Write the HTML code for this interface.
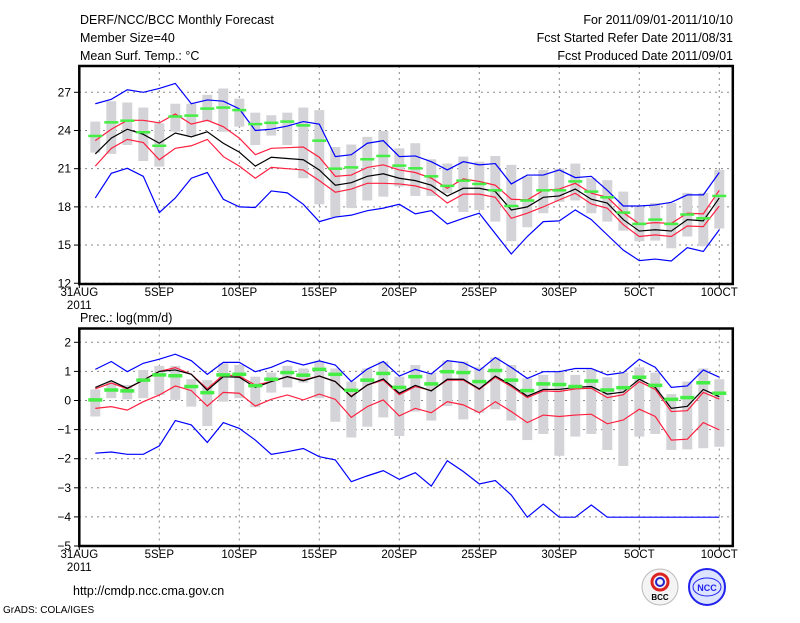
<!DOCTYPE html>
<html><head><meta charset="utf-8"><style>
body{margin:0;background:#fff;width:800px;height:618px;overflow:hidden}
svg text{font-family:"Liberation Sans",sans-serif;fill:#000}
</style></head><body>
<svg id="c" width="800" height="618" viewBox="0 0 800 618" xmlns="http://www.w3.org/2000/svg">
<g font-size="12.5">
<text x="80" y="24">DERF/NCC/BCC Monthly Forecast</text>
<text x="80" y="42">Member Size=40</text>
<text x="80" y="60">Mean Surf. Temp.: °C</text>
<text x="733" y="24" text-anchor="end">For 2011/09/01-2011/10/10</text>
<text x="733" y="42" text-anchor="end">Fcst Started Refer Date 2011/08/31</text>
<text x="733" y="60" text-anchor="end">Fcst Produced Date 2011/09/01</text>
<text x="80" y="322">Prec.: log(mm/d)</text>
<text x="73" y="595">http://cmdp.ncc.cma.gov.cn</text>
<text x="3" y="613" font-size="10">GrADS: COLA/IGES</text>
</g>
<g>
<circle cx="660" cy="587" r="18" fill="#f4f4f4" stroke="#bbb"/>
<circle cx="660" cy="582" r="8" fill="none" stroke="#d22" stroke-width="3"/>
<circle cx="660" cy="582" r="4" fill="none" stroke="#22c" stroke-width="2"/>
<text x="660" y="600" font-size="8" text-anchor="middle" font-weight="bold">BCC</text>
</g>
<g>
<circle cx="707" cy="587" r="18" fill="#dde4ff" stroke="#22e" stroke-width="2"/>
<ellipse cx="707" cy="587" rx="14" ry="9" fill="none" stroke="#22e"/>
<text x="707" y="591" font-size="9" text-anchor="middle" style="fill:#22e" font-weight="bold">NCC</text>
</g>
<g id="plot"></g>
</svg>
<script>
const days=[];for(let i=1;i<=40;i++)days.push(i);
const dateTicks=[0,5,10,15,20,25,30,35,40];
const dateLabels=["31AUG","5SEP","10SEP","15SEP","20SEP","25SEP","30SEP","5OCT","10OCT"];
const tTicks=[12,15,18,21,24,27];
const pTicks=[-5,-4,-3,-2,-1,0,1,2];
// temperature
const tMean=[22.16,23.4,24.1,23.7,23.0,23.8,23.5,23.9,23.0,22.3,21.2,21.9,21.8,21.7,20.9,19.7,19.9,20.4,20.6,20.25,20.06,19.7,18.85,19.46,19.46,19.2,17.76,18.0,18.75,18.86,19.4,18.6,18.3,17.0,16.1,16.2,16.1,17.0,16.9,18.7];
const tRedHi=[23.2,24.1,24.8,24.8,24.6,25.3,24.5,24.8,24.3,23.4,22.1,22.6,22.65,22.7,21.9,20.4,20.5,21.1,21.3,20.9,20.7,20.25,19.46,20.2,20.0,19.7,18.6,18.55,19.3,19.4,19.85,19.07,18.75,17.55,16.66,16.76,16.7,17.5,17.45,19.3];
const tRedLo=[21.2,22.6,23.3,23.05,21.7,22.6,22.8,23.3,21.95,21.2,20.25,21.1,21.0,20.9,20.06,19.15,19.4,19.85,19.85,19.8,19.65,19.3,18.3,19.0,19.0,18.75,17.1,17.5,18.0,18.55,19.07,18.23,17.9,16.6,15.67,15.8,15.67,16.5,16.45,18.07];
const tMax=[26.1,26.45,27.2,27.0,27.3,27.7,26.1,26.4,26.3,25.7,24.0,24.1,24.35,24.7,24.5,21.95,22.1,23.0,23.2,21.95,22.0,21.55,20.9,21.55,21.3,21.4,19.8,20.5,20.5,20.9,20.3,20.4,19.3,18.07,18.07,18.15,18.36,18.94,18.94,20.7];
const tMin=[18.7,20.64,21.03,20.4,17.55,18.7,20.25,20.7,18.6,18.0,17.95,19.25,19.1,18.2,16.84,17.2,17.35,17.7,17.9,18.2,17.45,17.7,16.66,17.1,17.5,15.9,14.3,15.67,16.84,16.9,17.76,17.0,15.8,14.6,13.78,13.9,13.75,14.8,14.5,16.2];
const tMed=[23.57,24.64,24.77,23.86,22.8,25.1,25.17,25.72,25.8,25.6,24.5,24.6,24.7,24.4,23.2,21.0,21.1,21.74,22.0,21.24,21.03,20.4,19.65,20.06,19.8,19.3,18.07,18.5,19.3,19.3,20.0,19.2,18.75,17.55,16.66,17.0,16.66,17.4,17.1,18.86];
const tBoxHi=[24.7,26.3,26.2,25.8,24.57,26.1,26.1,26.8,27.3,26.5,25.4,25.2,25.4,25.8,25.6,22.7,22.9,23.5,23.96,22.6,23.0,21.74,21.4,21.95,21.55,22.0,21.3,20.4,20.9,21.0,21.4,20.25,20.1,19.2,18.0,18.3,18.3,19.1,19.1,20.9];
const tBoxLo=[22.26,22.16,22.86,21.6,21.16,23.9,23.6,24.7,23.9,24.3,22.86,23.6,22.86,20.25,18.2,17.2,17.9,18.5,18.8,19.6,18.86,18.86,19.07,17.6,17.76,16.84,15.3,16.4,17.5,18.4,18.5,17.5,16.84,16.13,15.3,15.35,14.75,15.67,14.9,16.3];
// precipitation
const pMean=[0.45,0.68,0.42,0.7,1.0,1.05,0.9,0.35,0.82,0.8,0.45,0.65,0.82,0.68,0.84,0.65,0.13,0.53,0.74,0.25,0.52,0.33,0.73,0.73,0.4,0.84,0.53,0.15,0.38,0.38,0.45,0.48,0.22,0.29,0.73,0.45,-0.27,-0.2,0.38,0.13];
const pRedHi=[0.4,0.6,0.4,0.7,1.0,1.13,0.9,0.4,0.88,0.84,0.53,0.65,0.82,0.7,0.84,0.65,0.15,0.53,0.7,0.2,0.48,0.34,0.7,0.7,0.38,0.8,0.48,0.1,0.33,0.31,0.4,0.42,0.1,0.2,0.65,0.38,-0.38,-0.35,0.28,0.05];
const pRedLo=[-0.27,-0.21,-0.33,-0.04,0.19,0.5,0.34,-0.19,0.28,0.25,-0.19,0.04,0.19,0.02,0.22,0.04,-0.58,-0.21,0.02,-0.53,-0.27,-0.42,-0.04,-0.15,-0.42,-0.04,-0.38,-0.76,-0.5,-0.55,-0.5,-0.47,-0.8,-0.67,-0.3,-0.55,-1.36,-1.33,-0.76,-1.01];
const pMax=[1.07,1.34,0.99,1.28,1.42,1.59,1.37,0.9,1.31,1.31,0.99,1.14,1.37,1.22,1.36,1.22,0.65,1.08,1.34,0.84,1.07,0.91,1.37,1.3,1.03,1.48,1.14,0.76,0.99,0.99,1.1,1.1,0.88,0.96,1.42,1.14,0.45,0.5,1.05,0.8];
const pMin=[-1.81,-1.77,-1.85,-1.85,-1.56,-0.69,-0.84,-1.44,-0.76,-0.96,-1.36,-1.85,-1.76,-1.65,-1.93,-2.04,-2.79,-2.59,-2.41,-2.71,-2.48,-2.94,-2.07,-2.44,-2.87,-2.75,-3.25,-4.01,-3.56,-4.01,-4.01,-3.59,-4.01,-4.01,-4.01,-4.01,-4.01,-4.01,-4.01,-4.01];
const pMed=[0.02,0.36,0.33,0.7,0.88,0.85,0.48,0.27,0.88,0.9,0.51,0.73,0.96,0.87,1.07,0.9,0.35,0.7,0.93,0.45,0.82,0.57,0.99,0.96,0.65,1.03,0.7,0.34,0.57,0.55,0.48,0.67,0.36,0.44,0.8,0.52,0.04,0.1,0.61,0.25];
const pBoxHi=[0.38,0.65,0.53,1.05,1.19,1.19,0.73,0.7,1.28,1.22,0.82,0.96,1.19,1.1,1.34,1.1,0.65,1.1,1.34,0.82,1.22,0.96,1.37,1.34,1.14,1.48,1.22,0.76,0.88,0.99,0.88,1.07,0.8,0.96,1.14,0.96,0.22,0.65,1.1,0.73];
const pBoxLo=[-0.55,0.08,0.04,0.08,0.19,0.02,-0.21,-0.88,-0.04,0.08,-0.23,0.27,0.45,0.61,0.08,-0.73,-1.27,-0.9,-0.58,-1.22,-0.38,-0.69,-0.19,-0.65,-0.42,-0.3,-0.69,-1.36,-1.15,-1.9,-1.24,-1.15,-1.7,-2.25,-1.24,-1.15,-1.7,-1.68,-1.64,-1.59];

const NS='http://www.w3.org/2000/svg';
const g=document.getElementById('plot');
const X=d=>79.3+16*d;
function mk(tag,attrs,parent){const e=document.createElementNS(NS,tag);for(const k in attrs)e.setAttribute(k,attrs[k]);(parent||g).appendChild(e);return e;}

function panel(name,top,bottom,Y,ticks,boxHi,boxLo,med,max,redHi,mean,redLo,min,medH){
  const pg=mk('g',{});
  
  
  // grid
  dateTicks.forEach(d=>{if(d>0&&d<40||d===40){const l=mk('line',{x1:X(d),x2:X(d),y1:top,y2:bottom,stroke:'#888','stroke-dasharray':'2,4','stroke-width':1},pg);
    
    }});
  ticks.forEach(v=>{const l=mk('line',{x1:79,x2:733,y1:Y(v),y2:Y(v),stroke:'#888','stroke-dasharray':'2,4','stroke-width':1},pg);
    
    
    const tk=mk('line',{x1:74,x2:79,y1:Y(v),y2:Y(v),stroke:'#000'},pg);
    
    
    const t=mk('text',{x:71,y:Y(v)+4,'text-anchor':'end','font-size':12},pg);t.textContent=String(v).replace('-','−');
    
    });
  // boxes
  days.forEach((d,i)=>{const r=mk('rect',{x:X(d)-5,y:Y(boxHi[i]),width:10,height:Y(boxLo[i])-Y(boxHi[i]),fill:'#d4d4d8'},pg);
    
    });
  const line=(arr,col,nm)=>{const p=mk('polyline',{points:days.map((d,i)=>X(d)+','+Y(arr[i])).join(' '),fill:'none',stroke:col,'stroke-width':1.2},pg);
    
    };
  line(max,'#0000ff','max-line');line(min,'#0000ff','min-line');
  line(redHi,'#ff2040','upper-red-line');line(redLo,'#ff2040','lower-red-line');
  line(mean,'#000','mean-line');
  days.forEach((d,i)=>{const r=mk('rect',{x:X(d)-7,y:Y(med[i])-medH/2,width:14,height:medH,fill:'#44ee44'},pg);
    
    });
  // x ticks
  dateTicks.forEach((d,i)=>{const tk=mk('line',{x1:X(d),x2:X(d),y1:bottom,y2:bottom+4,stroke:'#000'},pg);
    
    
    const t=mk('text',{x:X(d),y:bottom+12,'text-anchor':'middle','font-size':11.5},pg);t.textContent=dateLabels[i];
    
    });
  const yr=mk('text',{x:X(0),y:bottom+25,'text-anchor':'middle','font-size':11.5},pg);yr.textContent='2011';
  
  
  const f=mk('rect',{x:79.3,y:top,width:653.5,height:bottom-top,fill:'none',stroke:'#000','stroke-width':2.5},pg);
  
  
}
panel('temperature-panel',66,284,v=>92.3+(27-v)*12.73,tTicks,tBoxHi,tBoxLo,tMed,tMax,tRedHi,tMean,tRedLo,tMin,2.5);
panel('precipitation-panel',328.5,546,v=>342.3+(2-v)*29.1,pTicks,pBoxHi,pBoxLo,pMed,pMax,pRedHi,pMean,pRedLo,pMin,3.5);
</script>
</body></html>
